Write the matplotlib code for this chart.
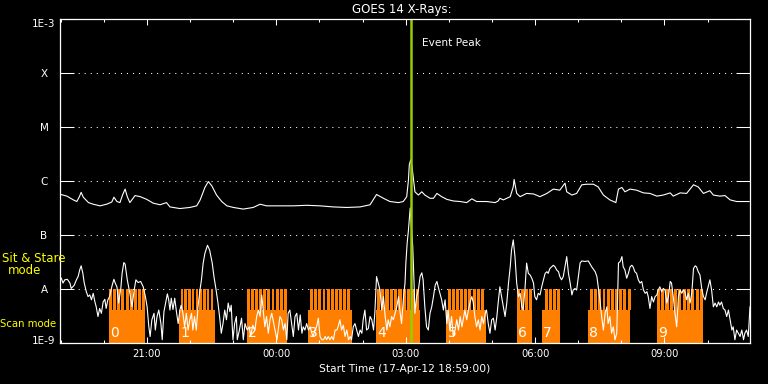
import numpy as np
import matplotlib
matplotlib.use("Agg")
import matplotlib.pyplot as plt
from matplotlib.ticker import FixedLocator, NullLocator
from matplotlib.transforms import ScaledTranslation

# ---------------- data (time in hours since 17-Apr-12 18:59:00) ----------------
START_HOUR = 18 + 59 / 60.0
END_HOURS = 16.0

# long channel (1-8 A): (hours, log10 flux W/m^2)
long_channel = [
    (0.02, -6.25), (0.16, -6.28), (0.31, -6.35), (0.39, -6.38), (0.45, -6.29), (0.49, -6.21),
    (0.54, -6.30), (0.66, -6.40), (0.77, -6.43), (0.93, -6.46), (1.08, -6.43), (1.20, -6.39),
    (1.25, -6.30), (1.32, -6.38), (1.39, -6.40), (1.45, -6.26), (1.51, -6.15), (1.56, -6.29),
    (1.62, -6.40), (1.74, -6.27), (1.86, -6.29), (2.01, -6.34), (2.16, -6.41), (2.32, -6.44),
    (2.47, -6.40), (2.55, -6.48), (2.78, -6.51), (3.01, -6.49), (3.17, -6.46), (3.25, -6.35),
    (3.36, -6.12), (3.44, -6.01), (3.52, -6.09), (3.63, -6.26), (3.75, -6.38), (3.87, -6.46),
    (4.02, -6.49), (4.25, -6.52), (4.48, -6.49), (4.64, -6.43), (4.79, -6.46), (5.10, -6.46),
    (5.41, -6.46), (5.72, -6.45), (6.03, -6.46), (6.34, -6.48), (6.65, -6.49), (6.96, -6.48),
    (7.19, -6.44), (7.34, -6.25), (7.50, -6.32), (7.65, -6.38), (7.85, -6.40), (7.96, -6.38),
    (8.04, -6.29), (8.08, -5.98), (8.10, -5.70), (8.13, -5.61), (8.16, -5.72), (8.19, -5.92),
    (8.23, -6.20), (8.31, -6.26), (8.39, -6.20), (8.46, -6.26), (8.58, -6.32), (8.66, -6.32),
    (8.74, -6.23), (8.85, -6.29), (8.97, -6.34), (9.12, -6.37), (9.28, -6.38), (9.43, -6.40),
    (9.55, -6.33), (9.66, -6.38), (9.89, -6.38), (10.09, -6.40), (10.16, -6.37), (10.20, -6.32),
    (10.28, -6.35), (10.44, -6.29), (10.51, -6.11), (10.53, -5.97), (10.59, -6.23), (10.67, -6.29),
    (10.82, -6.23), (10.98, -6.24), (11.13, -6.29), (11.29, -6.23), (11.44, -6.15), (11.59, -6.17),
    (11.71, -6.04), (11.75, -6.20), (11.87, -6.26), (11.98, -6.23), (12.10, -6.07), (12.21, -6.06),
    (12.37, -6.06), (12.48, -6.11), (12.60, -6.26), (12.75, -6.35), (12.89, -6.40), (12.95, -6.15),
    (13.03, -6.12), (13.10, -6.20), (13.22, -6.15), (13.37, -6.17), (13.53, -6.22), (13.68, -6.23),
    (13.84, -6.28), (13.99, -6.26), (14.15, -6.22), (14.22, -6.28), (14.38, -6.22), (14.53, -6.23),
    (14.69, -6.07), (14.80, -6.11), (14.92, -6.23), (15.07, -6.18), (15.15, -6.26), (15.30, -6.28),
    (15.42, -6.27), (15.54, -6.35), (15.69, -6.38), (15.98, -6.38),
]

# short channel (0.5-4 A): (hours, log10 flux W/m^2)
short_channel = [
    (0.03, -7.80), (0.07, -7.89), (0.11, -7.83), (0.17, -7.82), (0.23, -7.89), (0.26, -7.99),
    (0.33, -7.93), (0.38, -7.83), (0.42, -7.77), (0.46, -7.64), (0.49, -7.57), (0.53, -7.71),
    (0.56, -7.88), (0.61, -8.05), (0.65, -8.14), (0.69, -8.11), (0.73, -8.20), (0.77, -8.08),
    (0.81, -8.24), (0.84, -8.33), (0.88, -8.51), (0.92, -8.36), (0.96, -8.45), (1.00, -8.24),
    (1.04, -8.19), (1.07, -8.36), (1.11, -8.20), (1.15, -8.14), (1.21, -7.93), (1.25, -7.82),
    (1.28, -7.89), (1.32, -7.96), (1.36, -8.26), (1.41, -7.99), (1.44, -7.71), (1.48, -7.51),
    (1.51, -7.54), (1.56, -7.83), (1.62, -8.08), (1.67, -8.33), (1.72, -8.02), (1.76, -7.83),
    (1.81, -7.88), (1.87, -7.86), (1.93, -7.96), (1.98, -8.14),
    (2.02, -8.33), (2.06, -8.70), (2.09, -8.88), (2.13, -8.57), (2.18, -8.45), (2.21, -8.76),
    (2.25, -8.51), (2.29, -8.39), (2.34, -8.64), (2.37, -8.94), (2.41, -8.42), (2.44, -8.30),
    (2.49, -8.09), (2.52, -8.20), (2.55, -8.39), (2.58, -8.17), (2.62, -8.38), (2.66, -8.17),
    (2.70, -8.42), (2.74, -8.64), (2.78, -8.39), (2.81, -8.30), (2.85, -8.45), (2.89, -8.70),
    (2.93, -8.45), (2.97, -8.76), (3.01, -8.57), (3.05, -8.45), (3.08, -8.76), (3.12, -8.51),
    (3.16, -8.76), (3.20, -8.33), (3.24, -8.05), (3.28, -7.83), (3.32, -7.52), (3.36, -7.34),
    (3.42, -7.19), (3.47, -7.28), (3.53, -7.52), (3.57, -7.77), (3.62, -8.02), (3.66, -8.24),
    (3.70, -8.51), (3.74, -8.82), (3.78, -8.64), (3.82, -8.39), (3.86, -8.57), (3.90, -8.26),
    (3.94, -8.42), (3.97, -8.30), (4.01, -8.94), (4.05, -8.64), (4.09, -8.51),
    (4.11, -8.94), (4.16, -8.76), (4.21, -8.54), (4.25, -8.94), (4.29, -8.64), (4.34, -8.76),
    (4.39, -8.70), (4.42, -8.88), (4.47, -8.67), (4.52, -8.76), (4.56, -8.51), (4.60, -8.39),
    (4.64, -8.51), (4.68, -8.11), (4.71, -8.39), (4.75, -8.70), (4.79, -8.51), (4.83, -8.82),
    (4.87, -8.57), (4.91, -8.45), (4.95, -8.61), (4.99, -8.76), (5.03, -8.94), (5.06, -8.76),
    (5.10, -8.51), (5.14, -8.57), (5.18, -8.76), (5.22, -8.64), (5.26, -8.94), (5.29, -8.45),
    (5.33, -8.39), (5.37, -8.64), (5.41, -8.88), (5.45, -8.51), (5.49, -8.45), (5.53, -8.76),
    (5.57, -8.48), (5.61, -8.82), (5.64, -8.70), (5.68, -8.76), (5.72, -8.64), (5.76, -8.76),
    (5.80, -8.70), (5.84, -8.82), (5.87, -8.88), (5.91, -8.76), (5.95, -8.70), (5.99, -8.54),
    (6.03, -8.88), (6.07, -8.94), (6.11, -8.94), (6.15, -8.88), (6.18, -8.94), (6.22, -8.88),
    (6.26, -8.94), (6.30, -8.88), (6.34, -8.94), (6.38, -8.76), (6.42, -8.76), (6.45, -8.70),
    (6.49, -8.57), (6.53, -8.76), (6.57, -8.67), (6.61, -8.88), (6.65, -8.76), (6.69, -8.94),
    (6.73, -8.88), (6.76, -8.94), (6.80, -8.70), (6.84, -8.64), (6.88, -8.76), (6.92, -8.88),
    (6.96, -8.76), (7.00, -8.82), (7.03, -8.57), (7.07, -8.39), (7.11, -8.76), (7.15, -8.73),
    (7.19, -8.51), (7.23, -8.57), (7.27, -8.76), (7.30, -8.45), (7.34, -7.77), (7.38, -7.89),
    (7.42, -8.02), (7.46, -8.39), (7.50, -8.14), (7.54, -8.51), (7.58, -8.76), (7.61, -8.57),
    (7.65, -8.70), (7.69, -8.51), (7.73, -8.57), (7.77, -8.45), (7.81, -8.33), (7.85, -8.14),
    (7.88, -8.39), (7.92, -8.64), (7.96, -8.20), (8.00, -7.89), (8.02, -7.52), (8.05, -7.15),
    (8.08, -6.91), (8.12, -6.50), (8.18, -7.22), (8.21, -7.89), (8.23, -8.45), (8.27, -8.14),
    (8.31, -8.02), (8.35, -7.77), (8.39, -7.70), (8.42, -7.83), (8.46, -8.33), (8.50, -8.70),
    (8.54, -8.76), (8.58, -8.45), (8.62, -8.33), (8.66, -8.14), (8.70, -7.93), (8.74, -7.86),
    (8.77, -7.96), (8.81, -8.08), (8.85, -8.20), (8.89, -8.39), (8.93, -8.20), (8.97, -8.64),
    (9.00, -8.39), (9.04, -8.76), (9.08, -8.51), (9.12, -8.88), (9.16, -8.76), (9.20, -8.57),
    (9.24, -8.76), (9.28, -8.51), (9.32, -8.70), (9.35, -8.57), (9.39, -8.39), (9.43, -8.57),
    (9.47, -8.39), (9.51, -8.24), (9.55, -8.14), (9.58, -8.24), (9.62, -8.51), (9.66, -8.70),
    (9.70, -8.57), (9.74, -8.76), (9.78, -8.51), (9.82, -8.64), (9.86, -8.45), (9.89, -8.39),
    (9.93, -8.64), (9.97, -8.82), (10.01, -8.57), (10.05, -8.54), (10.09, -8.76), (10.13, -8.51),
    (10.16, -8.26), (10.20, -7.96), (10.24, -8.14), (10.28, -8.33), (10.32, -8.51), (10.36, -8.26),
    (10.40, -7.89), (10.44, -7.59), (10.47, -7.28), (10.51, -7.09), (10.55, -7.40), (10.59, -7.89),
    (10.63, -8.14), (10.67, -8.08), (10.71, -8.33), (10.74, -8.39), (10.78, -8.02), (10.82, -7.52),
    (10.86, -7.71), (10.90, -7.74), (10.94, -7.80), (10.98, -7.89), (11.01, -8.14), (11.05, -8.20),
    (11.09, -8.08), (11.13, -8.11), (11.17, -7.96), (11.21, -7.83), (11.25, -7.71), (11.29, -7.68),
    (11.32, -7.71), (11.36, -7.62), (11.40, -7.59), (11.44, -7.56), (11.48, -7.59), (11.52, -7.65),
    (11.56, -7.68), (11.59, -7.77), (11.63, -7.83), (11.67, -7.77), (11.71, -7.59), (11.75, -7.40),
    (11.79, -7.71), (11.83, -7.89), (11.87, -8.11), (11.90, -8.02), (11.94, -7.99), (11.98, -8.02),
    (12.02, -7.77), (12.06, -7.52), (12.10, -7.48), (12.17, -7.49), (12.25, -7.48), (12.33, -7.59),
    (12.41, -7.68), (12.45, -7.77), (12.48, -7.96), (12.52, -8.20), (12.56, -8.51), (12.60, -8.76),
    (12.64, -8.45), (12.68, -8.33), (12.71, -8.64), (12.75, -8.51), (12.79, -8.82), (12.83, -8.70),
    (12.87, -8.94), (12.91, -8.82), (12.95, -7.52), (12.99, -7.49), (13.03, -7.40), (13.06, -7.59),
    (13.10, -7.65), (13.14, -7.80), (13.18, -7.71), (13.22, -7.59), (13.26, -7.56), (13.29, -7.59),
    (13.33, -7.68), (13.37, -7.71), (13.41, -7.83), (13.45, -7.89), (13.49, -7.86), (13.53, -8.02),
    (13.57, -8.08), (13.61, -8.05), (13.64, -8.14), (13.68, -8.36), (13.72, -8.14), (13.76, -8.24),
    (13.80, -8.14), (13.84, -8.11), (13.87, -8.02), (13.91, -7.96), (13.95, -8.05), (13.99, -7.99),
    (14.03, -8.02), (14.07, -8.26), (14.11, -8.14), (14.15, -7.86), (14.18, -7.89), (14.22, -8.14),
    (14.26, -8.45), (14.30, -8.70), (14.34, -8.14), (14.38, -8.02), (14.42, -8.08), (14.45, -8.02),
    (14.49, -8.05), (14.53, -8.20), (14.57, -8.08), (14.61, -8.26), (14.65, -8.08), (14.69, -7.62),
    (14.73, -7.57), (14.76, -7.59), (14.80, -7.68), (14.84, -7.74), (14.88, -7.99), (14.92, -8.14),
    (14.96, -8.20), (15.00, -8.05), (15.03, -7.96), (15.07, -7.83), (15.11, -8.02), (15.15, -8.33),
    (15.19, -8.26), (15.23, -8.33), (15.27, -8.24), (15.30, -8.30), (15.34, -8.24), (15.38, -8.36),
    (15.42, -8.39), (15.46, -8.51), (15.50, -8.39), (15.54, -8.57), (15.58, -8.76), (15.61, -8.70),
    (15.65, -8.94), (15.69, -8.76), (15.73, -8.82), (15.77, -8.88), (15.81, -8.76), (15.85, -8.94),
    (15.88, -8.82), (15.92, -8.76), (15.96, -8.88), (16.00, -8.33),
]

# observing blocks (hours since start)
block_labels = ["0", "1", "2", "3", "4", "5", "6", "7", "8", "9"]
scan_start = [1.13, 2.76, 4.33, 5.74, 7.32, 8.95, 10.59, 11.17, 12.24, 13.84]
scan_end = [1.97, 3.59, 5.26, 6.77, 8.35, 9.88, 10.95, 11.59, 13.22, 14.91]
stare_start = [1.14, 2.80, 4.33, 5.80, 7.34, 8.99, 10.59, 11.25, 12.29, 13.84]
stare_end = [1.97, 3.55, 5.26, 6.73, 8.33, 9.83, 10.95, 11.59, 13.23, 14.91]
stare_count = [9, 9, 10, 10, 10, 9, 4, 4, 10, 11]
SCAN_LEVEL = 4.1e-9
STARE_LEVEL = 1e-8

event_peak = 8.128

level_values = [1e-9, 1e-8, 1e-7, 1e-6, 1e-5, 1e-4, 1e-3]
level_labels = ["1E-9", "A", "B", "C", "M", "X", "1E-3"]
xtick_hours = [21, 24, 27, 30, 33]
xtick_labels = ["21:00", "00:00", "03:00", "06:00", "09:00"]

# ---------------- figure ----------------
W, H = 768, 384
fig = plt.figure(figsize=(W / 100, H / 100), dpi=100, facecolor="black")
L, R, T, B = 60, 750, 19, 343
ax = fig.add_axes([L / W, 1 - B / H, (R - L) / W, (B - T) / H])
ax.set_facecolor("black")
ax.set_yscale("log")
ax.set_ylim(1e-9, 1e-3)
ax.set_xlim(0, END_HOURS)

orange = "#ff8000"
# dotted level lines
for v in level_values[1:-1]:
    ax.axhline(v, color="white", lw=0.75, ls=(0, (1, 4.8)), zorder=0.5)

# scan-mode blocks
ax.bar(scan_start, SCAN_LEVEL - 1e-9, width=np.array(scan_end) - np.array(scan_start),
       bottom=1e-9, align="edge", color=orange, lw=0, zorder=1, antialiased=False)
# sit & stare teeth
gap = 0.028
for s, e, n in zip(stare_start, stare_end, stare_count):
    w = (e - s - (n - 1) * gap) / n
    lefts = s + np.arange(n) * (w + gap)
    ax.bar(lefts, STARE_LEVEL - SCAN_LEVEL, width=w, bottom=SCAN_LEVEL,
           align="edge", color=orange, lw=0, zorder=1, antialiased=False)

for s, lab in zip(scan_start, block_labels):
    ax.text(s + 0.035, 0.031, lab, transform=ax.get_xaxis_transform(), color="white",
            fontsize=10, ha="left", va="center", zorder=2)

lt, lv = zip(*long_channel)
st, sv = zip(*short_channel)
ax.plot(lt, 10 ** np.array(lv), color="white", lw=0.8, zorder=3)
ax.plot(st, 10 ** np.array(sv), color="white", lw=0.8, zorder=3)

ax.axvline(event_peak, color="#99cc00", lw=1.8, zorder=4)
ax.text(event_peak + 0.26, 0.926, "Event Peak", transform=ax.get_xaxis_transform(),
        color="white", fontsize=7.6, ha="left", va="center", zorder=5)

# axes styling
for sp in ax.spines.values():
    sp.set_color("white")
    sp.set_linewidth(0.9)
    sp.set_zorder(6)

ax.yaxis.set_major_locator(FixedLocator(level_values))
ax.yaxis.set_minor_locator(NullLocator())
ax.set_yticklabels(level_labels)
ax.tick_params(axis="y", which="major", direction="in", length=10.1, width=0.75,
               colors="white", left=True, right=True, labelsize=7.5, pad=11.5)
for lab in ax.get_yticklabels():
    lab.set_horizontalalignment("center")
ylabs = ax.get_yticklabels()
ylabs[0].set_transform(ylabs[0].get_transform() + ScaledTranslation(0, 3 / 100, fig.dpi_scale_trans))
ylabs[-1].set_transform(ylabs[-1].get_transform() + ScaledTranslation(0, -4 / 100, fig.dpi_scale_trans))

ax.xaxis.set_major_locator(FixedLocator([h - START_HOUR for h in xtick_hours]))
ax.set_xticklabels(xtick_labels)
ax.xaxis.set_minor_locator(FixedLocator([h - START_HOUR for h in range(19, 35)]))
ax.tick_params(axis="x", which="major", direction="in", length=4.3, width=0.75,
               colors="white", top=True, bottom=True, labelsize=7.2, pad=4.5)
ax.tick_params(axis="x", which="minor", direction="in", length=2.5, width=0.75,
               colors="white", top=True, bottom=True)

fig.text(402 / W, 1 - 9 / H, "GOES 14 X-Rays:", color="white", fontsize=8.5,
         ha="center", va="center")
fig.text(405 / W, 1 - 368.7 / H, "Start Time (17-Apr-12 18:59:00)", color="white",
         fontsize=7.7, ha="center", va="center")
fig.text(34 / W, 1 - 259 / H, "Sit & Stare", color="#ffff00", fontsize=8.5,
         ha="center", va="center")
fig.text(24.3 / W, 1 - 271 / H, "mode", color="#ffff00", fontsize=8.5,
         ha="center", va="center")
fig.text(28 / W, 1 - 324 / H, "Scan mode", color="#ffff00", fontsize=7.3,
         ha="center", va="center")

fig.savefig("out.png", dpi=100, facecolor="black")
